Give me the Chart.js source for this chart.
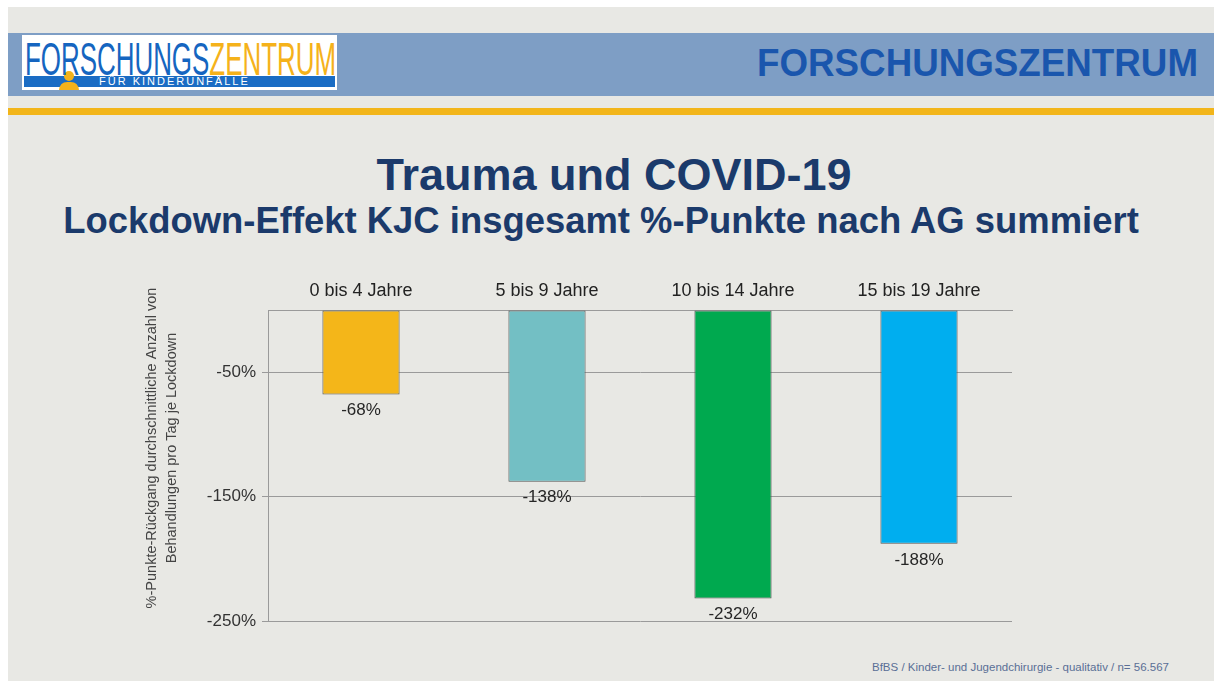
<!DOCTYPE html>
<html>
<head>
<meta charset="utf-8">
<script src="https://cdn.jsdelivr.net/npm/chart.js@4.4.1/dist/chart.umd.min.js"></script>
<style>
  body { margin: 0; width: 1214px; height: 681px; background: #fff; position: relative; overflow: hidden; font-family: "Liberation Sans", Arial, sans-serif; }
  .abs { position: absolute; }
  #bg { left: 8px; top: 7px; width: 1206px; height: 674px; background: #e8e8e4; }
  #band { left: 8px; top: 33px; width: 1206px; height: 63px; background: #7e9ec5; }
  #stripe { left: 8px; top: 108px; width: 1206px; height: 7px; background: #f2b51a; }
  #logo { left: 22px; top: 35px; width: 315px; height: 55px; background: #fff; }
  #logoText { left: 3px; top: -4px; font-size: 47px; white-space: nowrap; transform-origin: 0 0; }
  #logoText .b { color: #1565c0; }
  #logoText .y { color: #f5b21a; }
  #logoBar { left: 2px; top: 41px; width: 311px; height: 11px; background: #1a6cc4; }
  #logoSub { left: 75px; top: -1px; font-size: 11px; color: #fff; letter-spacing: 2px; white-space: nowrap; }
  #person { left: 36px; top: 35px; width: 22px; height: 20px; }
  #headRight { left: 757px; top: 42px; font-size: 38px; font-weight: bold; color: #1a56ad; white-space: nowrap; transform-origin: 0 0; }
  #title { left: 7px; width: 1214px; top: 149px; text-align: center; font-size: 45px; font-weight: bold; color: #1b3a6b; }
  #subtitle { left: -6px; width: 1214px; top: 200px; text-align: center; font-size: 36px; font-weight: bold; color: #1b3a6b; transform-origin: 607px 0; transform: scaleX(1.012); }
  #chartBox { left: 130px; top: 270px; width: 900px; height: 370px; }
  #footer { left: 872px; top: 661px; font-size: 11.5px; color: #5a6f96; white-space: nowrap; }
</style>
</head>
<body>
<div id="bg" class="abs"></div>
<div id="band" class="abs"></div>
<div id="stripe" class="abs"></div>
<div id="logo" class="abs">
  <div id="logoBar" class="abs"><div id="logoSub" class="abs">FÜR KINDERUNFÄLLE</div></div>
  <svg id="person" class="abs" viewBox="0 0 22 20"><circle cx="11" cy="6" r="5" fill="#f5b21a"/><path d="M1 20 Q2 11 11 12 Q20 11 21 20 Z" fill="#f5b21a"/></svg>
  <div id="logoText" class="abs"><span class="b">FORSCHUNGS</span><span class="y">ZENTRUM</span></div>
</div>
<div id="headRight" class="abs">FORSCHUNGSZENTRUM</div>
<div id="title" class="abs">Trauma und COVID-19</div>
<div id="subtitle" class="abs">Lockdown-Effekt KJC insgesamt %-Punkte nach AG summiert</div>
<div id="chartBox" class="abs"><canvas id="myChart" width="900" height="370"></canvas></div>
<div id="footer" class="abs">BfBS / Kinder- und Jugendchirurgie - qualitativ / n= 56.567</div>

<script>
const ageGroups = ["0 bis 4 Jahre", "5 bis 9 Jahre", "10 bis 14 Jahre", "15 bis 19 Jahre"];
const declineValues = [-68, -138, -232, -188];
const tickValues = [-250, -150, -50, 0];
const barColors = ["#f4b619", "#73bfc4", "#00a94f", "#00aeef"];
const axisTitle = ["%-Punkte-Rückgang durchschnittliche Anzahl von", "Behandlungen pro Tag je Lockdown"];

// squeeze text to a given width
function fitWidth(id, w) {
  const el = document.getElementById(id);
  const r = el.getBoundingClientRect();
  el.style.transform = "scaleX(" + (w / r.width) + ")";
}
fitWidth("logoText", 311);
fitWidth("headRight", 441);

const valueLabels = {
  id: "valueLabels",
  afterDatasetsDraw(chart) {
    const ctx = chart.ctx;
    const meta = chart.getDatasetMeta(0);
    ctx.save();
    ctx.font = "17px 'Liberation Sans', Arial";
    ctx.fillStyle = "#262626";
    ctx.textAlign = "center";
    ctx.textBaseline = "middle";
    meta.data.forEach((bar, i) => {
      ctx.fillText(declineValues[i] + "%", bar.x, bar.y + 16);
    });
    ctx.restore();
  }
};

// rotated two-line y axis title, a bit above the plot middle like the original
const yTitle = {
  id: "yTitle",
  afterDraw(chart) {
    const ctx = chart.ctx;
    ctx.save();
    ctx.translate(22, 178);
    ctx.rotate(-Math.PI / 2);
    ctx.font = "14.5px 'Liberation Sans', Arial";
    ctx.fillStyle = "#444";
    ctx.textAlign = "center";
    ctx.textBaseline = "middle";
    ctx.fillText(axisTitle[0], 0, 0);
    ctx.fillText(axisTitle[1], 0, 20);
    ctx.restore();
  }
};

const ctx = document.getElementById("myChart").getContext("2d");
new Chart(ctx, {
  type: "bar",
  data: {
    labels: ageGroups,
    datasets: [{
      data: declineValues,
      backgroundColor: barColors,
      borderColor: "#555",
      borderWidth: 1,
      borderSkipped: false,
      categoryPercentage: 1,
      barPercentage: 0.415
    }]
  },
  options: {
    responsive: false,
    animation: false,
    layout: { padding: { left: 0, top: 0, right: 18, bottom: 19 } },
    plugins: { legend: { display: false }, tooltip: { enabled: false } },
    scales: {
      x: {
        position: "top",
        grid: { display: false },
        border: { display: true, color: "#9a9a9a" },
        ticks: { color: "#222", font: { size: 18, family: "'Liberation Sans', Arial" }, padding: 0 },
        afterFit(scale) { scale.height = 40; }
      },
      y: {
        min: -250,
        max: 0,
        afterBuildTicks(scale) { scale.ticks = tickValues.map(v => ({ value: v })); },
        ticks: {
          color: "#333",
          font: { size: 17, family: "'Liberation Sans', Arial" },
          padding: 6,
          callback: v => (v === 0 ? "" : v + "%")
        },
        grid: {
          color: "#9a9a9a",
          tickLength: 6,
          tickColor: c => (c.tick && c.tick.value === 0 ? "rgba(0,0,0,0)" : "#9a9a9a")
        },
        border: { display: true, color: "#9a9a9a" },
        afterFit(scale) { scale.width = 138; }
      }
    }
  },
  plugins: [valueLabels, yTitle]
});
</script>
</body>
</html>
